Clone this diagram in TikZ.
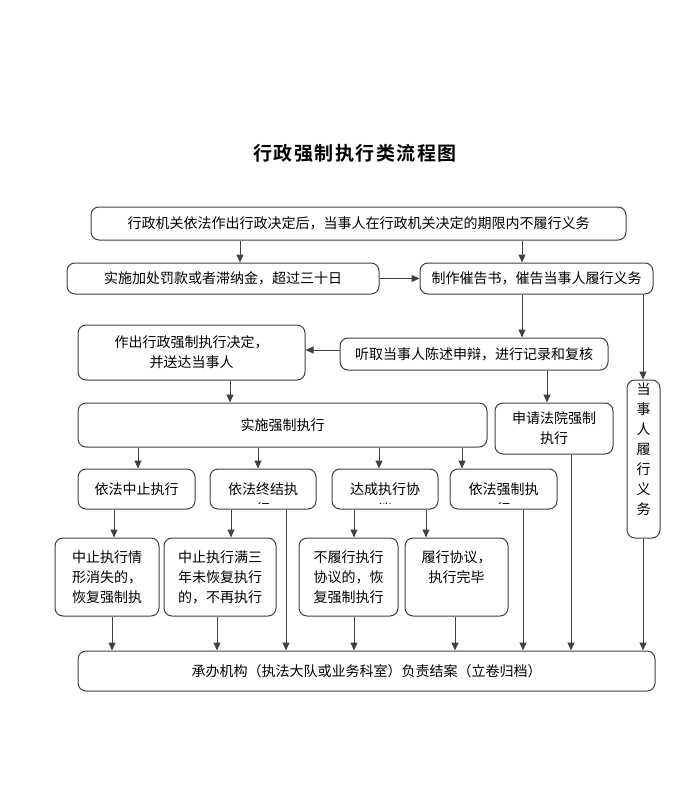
\documentclass[tikz,border=0pt]{standalone}
\usepackage{fontspec}
\setmainfont{Noto Sans CJK SC}
\newfontfamily\titlefont[LetterSpace=8]{Noto Sans CJK SC Bold}
\usepackage{tikz}
\usetikzlibrary{arrows.meta,positioning}

\begin{document}
\begin{tikzpicture}[x=1pt, y=-1pt,
    box/.style={rectangle, rounded corners=8pt, draw=black!75, line width=1pt,
                fill=white, inner sep=0pt, align=center,
                font=\fontsize{14pt}{20pt}\selectfont},
    cutbox/.style={box, path picture={
        \clip[sharp corners] (path picture bounding box.north west)
            rectangle ([yshift=6pt]path picture bounding box.south east);
        \node[draw=none, fill=none, anchor=north, align=center, inner sep=0pt,
              font=\fontsize{14pt}{20pt}\selectfont]
            at ([yshift=-10pt]path picture bounding box.north) {#1};}},
    arr/.style={-{Triangle[length=8pt, width=7pt]}, line width=1pt, black!75}
]
    \useasboundingbox (0,0) rectangle (697,803);

    \node[font=\titlefont\fontsize{19pt}{22pt}\selectfont] (title) at (355,153) {行政强制执行类流程图};

    \node[box, minimum width=535, minimum height=33] (start) at (358.5,223.5)
        {行政机关依法作出行政决定后，当事人在行政机关决定的期限内不履行义务};
    \node[box, minimum width=312, minimum height=31] (fine) at (223,278.5)
        {实施加处罚款或者滞纳金，超过三十日};
    \node[box, minimum width=233, minimum height=31] (notice) at (536.5,278.5)
        {制作催告书，催告当事人履行义务};
    \node[box, minimum width=227, minimum height=55] (decide) at (191.5,352.5)
        {作出行政强制执行决定，\\并送达当事人};
    \node[box, minimum width=268, minimum height=32] (hear) at (474,354)
        {听取当事人陈述申辩，进行记录和复核};
    \node[box, minimum width=33, minimum height=158] (perform) at (643.5,459)
        {当\\事\\人\\履\\行\\义\\务\\ };
    \node[box, minimum width=409, minimum height=44] (enforce) at (282.5,425)
        {实施强制执行};
    \node[box, minimum width=118, minimum height=51] (court) at (554,428.5)
        {申请法院强制\\执行};

    \node[box, minimum width=117, minimum height=40] (suspend) at (136.5,489) {依法中止执行};
    \node[cutbox={依法终结执\\行}, minimum width=106, minimum height=40] (terminate) at (263,489) {};
    \node[cutbox={达成执行协\\议}, minimum width=106, minimum height=40] (agree) at (385,489) {};
    \node[cutbox={依法强制执\\行}, minimum width=107, minimum height=40] (force) at (503.5,489) {};

    \node[box, minimum width=104, minimum height=78] (resume) at (107,577)
        {中止执行情\\形消失的，\\恢复强制执};
    \node[box, minimum width=112, minimum height=78] (stop) at (220,577)
        {中止执行满三\\年未恢复执行\\的，不再执行};
    \node[box, minimum width=99, minimum height=78] (breach) at (348.5,577)
        {不履行执行\\协议的，恢\\复强制执行};
    \node[box, minimum width=103, minimum height=78] (fulfil) at (456.5,577)
        {履行协议，\\执行完毕\\ };

    \node[box, minimum width=577, minimum height=40] (close) at (366.5,671)
        {承办机构（执法大队或业务科室）负责结案（立卷归档）};

    % columns of the vertical connectors
    \foreach \n/\x in {a/240, b/522, c/643, d/547, e/230, f/138, g/258, h/379,
                       i/462, j/114, k/231, l/354, m/426, n/286, o/523, p/571,
                       q/112, r/217, s/455}
        \coordinate (col\n) at (\x,0);
    \coordinate (rowhear) at (0,350);

    \draw[arr] (start.south -| cola) -- (fine.north -| cola);
    \draw[arr] (start.south -| colb) -- (notice.north -| colb);
    \draw[arr] (fine.east) -- (notice.west);
    \draw[arr] (notice.south -| colb) -- (hear.north -| colb);
    \draw[arr] (notice.south -| colc) -- (perform.north -| colc);
    \draw[arr] (hear.west |- rowhear) -- (decide.east |- rowhear);
    \draw[arr] (hear.south -| cold) -- (court.north -| cold);
    \draw[arr] (decide.south -| cole) -- (enforce.north -| cole);

    \draw[arr] (enforce.south -| colf) -- (suspend.north -| colf);
    \draw[arr] (enforce.south -| colg) -- (terminate.north -| colg);
    \draw[arr] (enforce.south -| colh) -- (agree.north -| colh);
    \draw[arr] (enforce.south -| coli) -- (force.north -| coli);

    \draw[arr] (suspend.south -| colj) -- (resume.north -| colj);
    \draw[arr] (terminate.south -| colk) -- (stop.north -| colk);
    \draw[arr] (agree.south -| coll) -- (breach.north -| coll);
    \draw[arr] (agree.south -| colm) -- (fulfil.north -| colm);

    \draw[arr] (resume.south -| colq) -- (close.north -| colq);
    \draw[arr] (stop.south -| colr) -- (close.north -| colr);
    \draw[arr] (terminate.south -| coln) -- (close.north -| coln);
    \draw[arr] (breach.south -| coll) -- (close.north -| coll);
    \draw[arr] (fulfil.south -| cols) -- (close.north -| cols);
    \draw[arr] (force.south -| colo) -- (close.north -| colo);
    \draw[arr] (court.south -| colp) -- (close.north -| colp);
    \draw[arr] (perform.south -| colc) -- (close.north -| colc);
\end{tikzpicture}
\end{document}
